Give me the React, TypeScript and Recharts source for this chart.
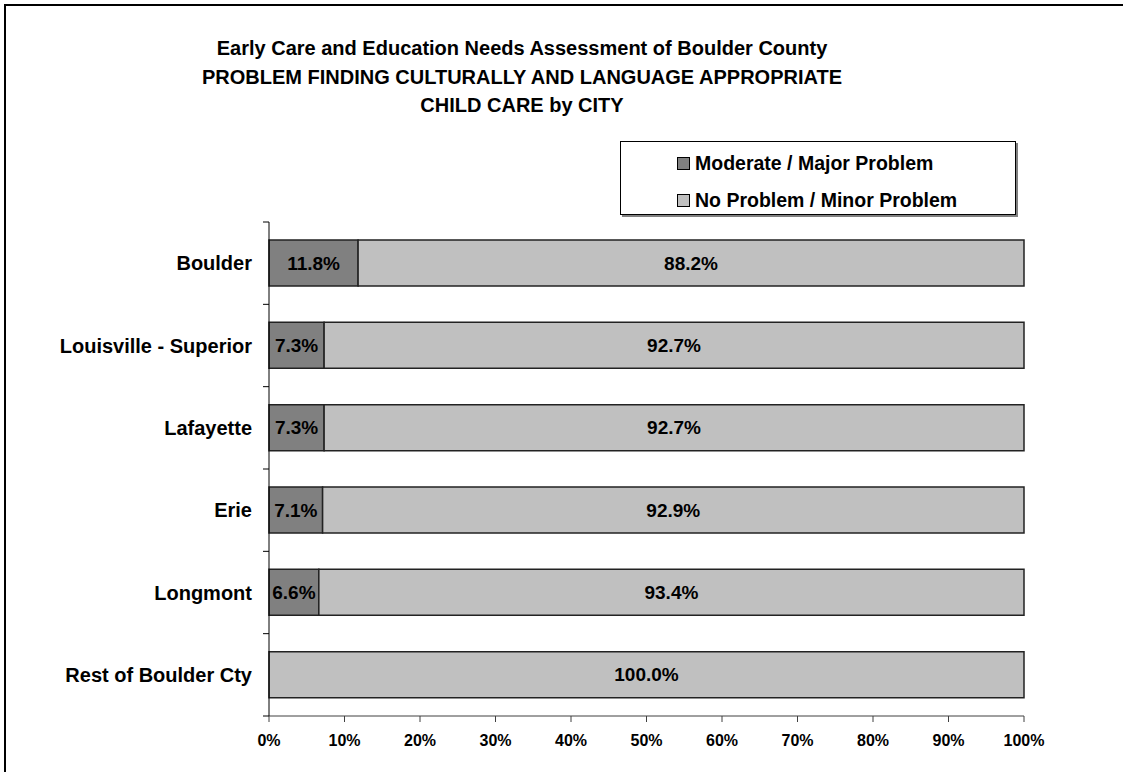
import { Bar, BarChart, XAxis, YAxis, LabelList } from "recharts"

const cities = [
  "Boulder",
  "Louisville - Superior",
  "Lafayette",
  "Erie",
  "Longmont",
  "Rest of Boulder Cty",
]
const moderateMajor = [11.8, 7.3, 7.3, 7.1, 6.6, 0]
const noMinor = [88.2, 92.7, 92.7, 92.9, 93.4, 100]
const xTicks = [0, 10, 20, 30, 40, 50, 60, 70, 80, 90, 100]

const titleLines = [
  "Early Care and Education Needs Assessment of Boulder County",
  "PROBLEM FINDING CULTURALLY AND LANGUAGE APPROPRIATE",
  "CHILD CARE by CITY",
]

const legendItems = [
  { name: "Moderate / Major Problem", color: "#808080" },
  { name: "No Problem / Minor Problem", color: "#c0c0c0" },
]

const data = cities.map((city, i) => ({
  city,
  moderate: moderateMajor[i],
  minor: noMinor[i],
}))

const FONT = '"Liberation Sans", Arial, sans-serif'
const PLOT_H = 494
const HALF_BAND = PLOT_H / cities.length / 2

function CityTick(props: any) {
  const { x, y, payload, index } = props
  const last = index === cities.length - 1
  return (
    <g>
      <line x1={x - 6} x2={x} y1={y - HALF_BAND} y2={y - HALF_BAND} stroke="#000" />
      {last && <line x1={x - 6} x2={x} y1={y + HALF_BAND} y2={y + HALF_BAND} stroke="#000" />}
      <text
        x={x - 17}
        y={y}
        dy={7}
        textAnchor="end"
        fontFamily={FONT}
        fontWeight="bold"
        fontSize={20}
        fill="#000"
      >
        {payload.value}
      </text>
    </g>
  )
}

const pct = (v: any) => (Number(v) > 0 ? `${Number(v).toFixed(1)}%` : "")

export default function App() {
  return (
    <div
      style={{
        position: "fixed",
        left: 0,
        top: 0,
        width: 1123,
        height: 772,
        overflow: "hidden",
        background: "#fff",
        fontFamily: FONT,
      }}
    >
      <div
        style={{
          position: "absolute",
          left: 4,
          top: 4,
          width: 2000,
          height: 2000,
          borderTop: "2px solid #000",
          borderLeft: "2px solid #000",
        }}
      />
      <div
        style={{
          position: "absolute",
          left: 22,
          width: 1000,
          top: 34,
          textAlign: "center",
          fontWeight: "bold",
          fontSize: 20,
          lineHeight: "28.5px",
          color: "#000",
        }}
      >
        {titleLines.map((t) => (
          <div key={t}>{t}</div>
        ))}
      </div>
      <div
        style={{
          position: "absolute",
          left: 620,
          top: 141,
          width: 394,
          height: 72,
          border: "1px solid #000",
          boxShadow: "2px 2px 0 #808080",
          background: "#fff",
        }}
      >
        {legendItems.map((item, i) => (
          <div
            key={item.name}
            style={{
              position: "absolute",
              left: 56,
              top: 9 + i * 37,
              height: 24,
              display: "flex",
              alignItems: "center",
              fontWeight: "bold",
              fontSize: 19.5,
              whiteSpace: "nowrap",
            }}
          >
            <span
              style={{
                display: "inline-block",
                width: 11,
                height: 11,
                background: item.color,
                border: "1px solid #000",
                marginRight: 5,
              }}
            />
            {item.name}
          </div>
        ))}
      </div>
      <div style={{ position: "absolute", left: 0, top: 0 }}>
        <BarChart
          width={1123}
          height={772}
          data={data}
          layout="vertical"
          margin={{ top: 222, right: 99, bottom: 0, left: 0 }}
        >
          <XAxis
            type="number"
            domain={[0, 100]}
            ticks={xTicks}
            tickFormatter={(v) => `${v}%`}
            height={56}
            stroke="#404040"
            tickSize={6}
            tickMargin={13}
            tick={{ fill: "#000", fontSize: 16, fontWeight: "bold", fontFamily: FONT }}
          />
          <YAxis
            type="category"
            dataKey="city"
            width={269}
            stroke="#000"
            tickLine={false}
            tickSize={0}
            tickMargin={0}
            tick={<CityTick />}
            interval={0}
          />
          <Bar
            dataKey="moderate"
            stackId="a"
            fill="#808080"
            stroke="#222"
            strokeWidth={1.5}
            barSize={46}
            isAnimationActive={false}
          >
            <LabelList
              dataKey="moderate"
              position="center"
              formatter={pct}
              fill="#000"
              fontSize={19}
              fontWeight="bold"
              fontFamily={FONT}
            />
          </Bar>
          <Bar
            dataKey="minor"
            stackId="a"
            fill="#c0c0c0"
            stroke="#222"
            strokeWidth={1.5}
            barSize={46}
            isAnimationActive={false}
          >
            <LabelList
              dataKey="minor"
              position="center"
              formatter={pct}
              fill="#000"
              fontSize={19}
              fontWeight="bold"
              fontFamily={FONT}
            />
          </Bar>
        </BarChart>
      </div>
    </div>
  )
}
